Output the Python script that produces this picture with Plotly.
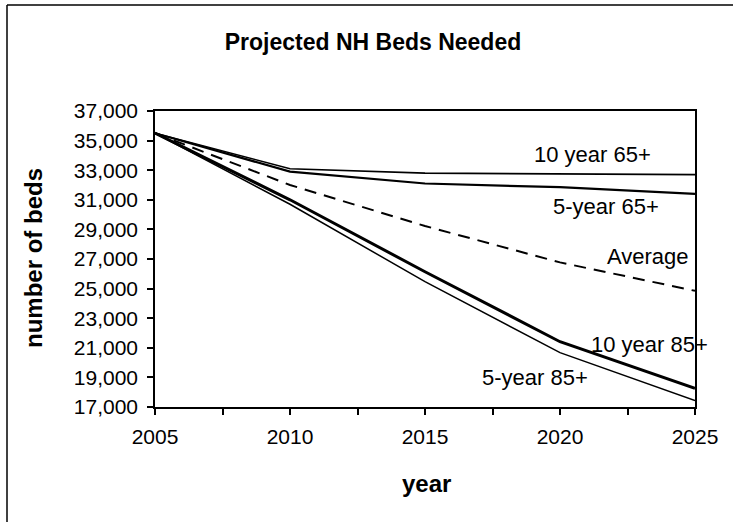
import plotly.graph_objects as go

years = [2005, 2010, 2015, 2020, 2025]
ten_year_65 = [35500, 33100, 32800, 32730, 32700]
five_year_65 = [35500, 32900, 32100, 31850, 31400]
average = [35500, 32000, 29230, 26770, 24850]
ten_year_85 = [35500, 31000, 26140, 21410, 18260]
five_year_85 = [35500, 30700, 25470, 20670, 17430]

y_ticks = [17000, 19000, 21000, 23000, 25000, 27000, 29000, 31000, 33000, 35000, 37000]
x_ticks = [2005, 2010, 2015, 2020, 2025]

FONT = "Liberation Sans, Arial, sans-serif"

fig = go.Figure()
series = [
    ("10 year 65+", ten_year_65, dict(color="black", width=1.6)),
    ("5-year 65+", five_year_65, dict(color="black", width=2.2)),
    ("Average", average, dict(color="black", width=2, dash="12px,8px")),
    ("10 year 85+", ten_year_85, dict(color="black", width=3)),
    ("5-year 85+", five_year_85, dict(color="black", width=1.5)),
]
for name, vals, line in series:
    fig.add_trace(go.Scatter(x=years, y=vals, mode="lines", name=name, line=line,
                             showlegend=False, cliponaxis=False))

labels = [
    ("10 year 65+", 2021.2, 34030),
    ("5-year 65+", 2021.7, 30580),
    ("Average", 2023.26, 27200),
    ("10 year 85+", 2023.3, 21190),
    ("5-year 85+", 2019.07, 18960),
]
for text, lx, ly in labels:
    fig.add_annotation(x=lx, y=ly, text=text, showarrow=False, xanchor="center",
                       yanchor="middle", font=dict(family=FONT, size=22, color="black"))

# axis titles
fig.add_annotation(xref="paper", yref="paper", x=(426 - 155) / 540, y=(407 - 483) / 296,
                   text="<b>year</b>", showarrow=False, xanchor="center", yanchor="middle",
                   font=dict(family=FONT, size=24, color="black"))
fig.add_annotation(xref="paper", yref="paper", x=(33 - 155) / 540, y=(407 - 258) / 296,
                   text="<b>number of beds</b>", textangle=-90, showarrow=False,
                   xanchor="center", yanchor="middle",
                   font=dict(family=FONT, size=24, color="black"))

# outer chart frame (top and left edges visible)
fig.add_shape(type="line", xref="paper", yref="paper",
              x0=(7 - 155) / 540, x1=(733 - 155) / 540,
              y0=(407 - 5) / 296, y1=(407 - 5) / 296,
              line=dict(color="black", width=1.5))
fig.add_shape(type="line", xref="paper", yref="paper",
              x0=(7 - 155) / 540, x1=(7 - 155) / 540,
              y0=(407 - 5) / 296, y1=(407 - 522) / 296,
              line=dict(color="black", width=1.5))

fig.update_layout(
    width=733, height=522,
    margin=dict(l=155, r=38, t=111, b=115),
    paper_bgcolor="white", plot_bgcolor="white",
    title=dict(text="<b>Projected NH Beds Needed</b>", x=373 / 733, y=1 - 42 / 522,
               xref="container", yref="container", xanchor="center", yanchor="middle",
               font=dict(family=FONT, size=23, color="black")),
    font=dict(family=FONT, color="black"),
    xaxis=dict(range=[2005, 2025], tickvals=x_ticks, ticktext=[str(v) for v in x_ticks],
               ticks="outside", ticklen=6, tickwidth=1.5, tickcolor="black",
               minor=dict(dtick=2.5, tick0=2005, ticks="outside", ticklen=6,
                          tickwidth=1.5, tickcolor="black", showgrid=False),
               showline=True, linecolor="black", linewidth=1.5, mirror=True,
               showgrid=False, zeroline=False, ticklabelstandoff=4,
               tickfont=dict(family=FONT, size=21, color="black")),
    yaxis=dict(range=[17000, 37000], tickvals=y_ticks,
               ticktext=[f"{v:,}" for v in y_ticks],
               ticks="outside", ticklen=6, tickwidth=1.5, tickcolor="black",
               showline=True, linecolor="black", linewidth=1.5, mirror=True,
               showgrid=False, zeroline=False, ticklabelstandoff=5,
               tickfont=dict(family=FONT, size=21, color="black")),
)

fig.write_html("out.html", config={"displayModeBar": False},
               post_script="document.body.style.margin='0';")
